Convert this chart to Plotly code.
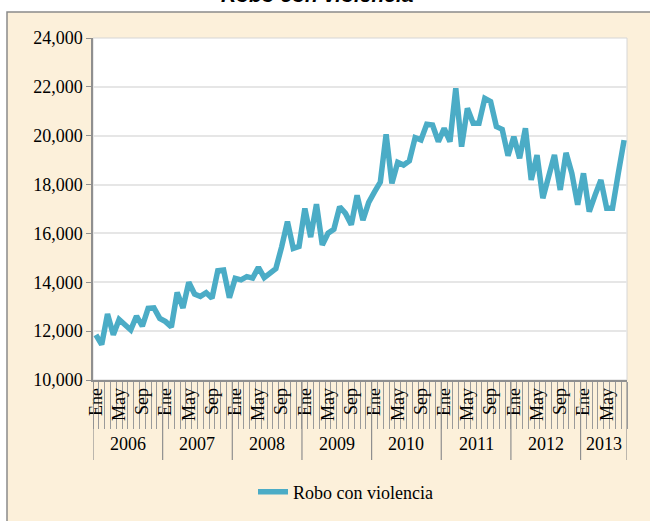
import plotly.graph_objects as go

# ---- data ----
years = [2006, 2007, 2008, 2009, 2010, 2011, 2012, 2013]
month_names = ["Ene", "Feb", "Mar", "Abr", "May", "Jun", "Jul", "Ago", "Sep", "Oct", "Nov", "Dic"]
shown_months = ["Ene", "May", "Sep"]
series_name = "Robo con violencia"
values = [
    11850, 11450, 12700, 11850, 12480, 12270, 12050, 12620, 12200, 12930, 12950, 12520,  # 2006
    12390, 12170, 13580, 12950, 14000, 13520, 13420, 13570, 13350, 14470, 14500, 13370,  # 2007
    14160, 14100, 14230, 14170, 14610, 14190, 14400, 14560, 15450, 16480, 15390, 15470,  # 2008
    17020, 15850, 17200, 15530, 16010, 16170, 17090, 16820, 16360, 17560, 16540, 17270,  # 2009
    17700, 18100, 20060, 18050, 18910, 18800, 18970, 19920, 19830, 20470, 20440, 19760,  # 2010
    20300, 19760, 21940, 19550, 21120, 20510, 20510, 21530, 21400, 20370, 20260, 19180,  # 2011
    19960, 19080, 20300, 18190, 19210, 17440, 18330, 19210, 17780, 19300, 18460, 17170,  # 2012
    18460, 16890, 17570, 18190, 17030, 17030, 18460, 19820,                              # 2013
]
y_ticks = [10000, 12000, 14000, 16000, 18000, 20000, 22000, 24000]

# ---- derived category structure ----
n = len(values)
idx = list(range(n))
month_of = [month_names[i % 12] for i in idx]
year_of = [years[i // 12] for i in idx]

tickvals = [i for i in idx if month_of[i] in shown_months]
ticktext = [month_of[i] for i in tickvals]

# layout geometry (pixels)
W, H = 650, 521
ML, MR, MT, MB = 93, 23, 38, 141
PW, PH = W - ML - MR, H - MT - MB


def px_x(px):
    return (px - ML) / PW


def px_y(py):
    return (H - MB - py) / PH


serif = "Liberation Serif, Times New Roman, serif"
line_color = "#4BACC6"
beige = "#FCF0DA"

fig = go.Figure()
fig.add_trace(go.Scatter(
    x=idx, y=values, mode="lines", name=series_name,
    line=dict(color=line_color, width=5.5),
))

shapes = [
    dict(type="rect", xref="paper", yref="paper",
         x0=px_x(7), x1=px_x(670), y0=px_y(540), y1=px_y(12),
         fillcolor=beige, line=dict(color="#8a8a8a", width=1.5), layer="below"),
    dict(type="rect", xref="paper", yref="paper",
         x0=0, x1=1, y0=0, y1=1,
         fillcolor="white", line=dict(color="#d6d6d6", width=1), layer="below"),
]
# year divider lines
year_bounds = sorted(set([i - 0.5 for i in idx if month_of[i] == "Ene"] + [n - 0.5]))
for b in year_bounds:
    shapes.append(dict(type="line", xref="x", yref="paper", x0=b, x1=b,
                       y0=px_y(380), y1=px_y(460),
                       line=dict(color="#8f8f8f", width=1.2)))

annotations = []
for yr in years:
    members = [i for i in idx if year_of[i] == yr]
    annotations.append(dict(
        x=sum(members) / len(members), y=px_y(444), xref="x", yref="paper",
        text=str(yr), showarrow=False, yanchor="middle",
        font=dict(family=serif, size=18, color="black")))
annotations.append(dict(
    x=px_x(317), y=px_y(-5), xref="paper", yref="paper",
    text="<b><i>" + series_name + "</i></b>", showarrow=False,
    yanchor="middle", font=dict(family="Liberation Sans, Arial, sans-serif", size=21, color="black")))

fig.update_layout(
    width=W, height=H,
    margin=dict(l=ML, r=MR, t=MT, b=MB, pad=0, autoexpand=False),
    paper_bgcolor="white", plot_bgcolor="white",
    shapes=shapes, annotations=annotations,
    showlegend=True,
    legend=dict(orientation="h", x=px_x(253), y=px_y(492), xanchor="left", yanchor="middle",
                bgcolor="rgba(0,0,0,0)", font=dict(family=serif, size=18, color="black")),
    xaxis=dict(
        range=[-0.5, n - 0.5], showgrid=False, zeroline=False, automargin=False,
        showline=True, linecolor="#8f8f8f", linewidth=1.5,
        tickmode="array", tickvals=tickvals, ticktext=ticktext, tickangle=-90,
        ticks="", ticklabelstandoff=-1,
        tickfont=dict(family=serif, size=18, color="black"),
        minor=dict(tickmode="array", tickvals=[b - 0.5 for b in range(n + 1)],
                   ticks="outside", ticklen=47, tickwidth=1.2, tickcolor="#9a9a9a",
                   showgrid=False),
    ),
    yaxis=dict(
        range=[y_ticks[0], y_ticks[-1]], tickvals=y_ticks, tickformat=",",
        showgrid=True, gridcolor="#e6e6e6", gridwidth=1.5, zeroline=False, automargin=False,
        showline=True, linecolor="#8f8f8f", linewidth=1.5,
        ticks="outside", ticklen=5, tickcolor="#8f8f8f",
        tickfont=dict(family=serif, size=18, color="black"),
    ),
)

fig.write_html("out.html", config={"displayModeBar": False},
               post_script="document.body.style.margin='0px';")
